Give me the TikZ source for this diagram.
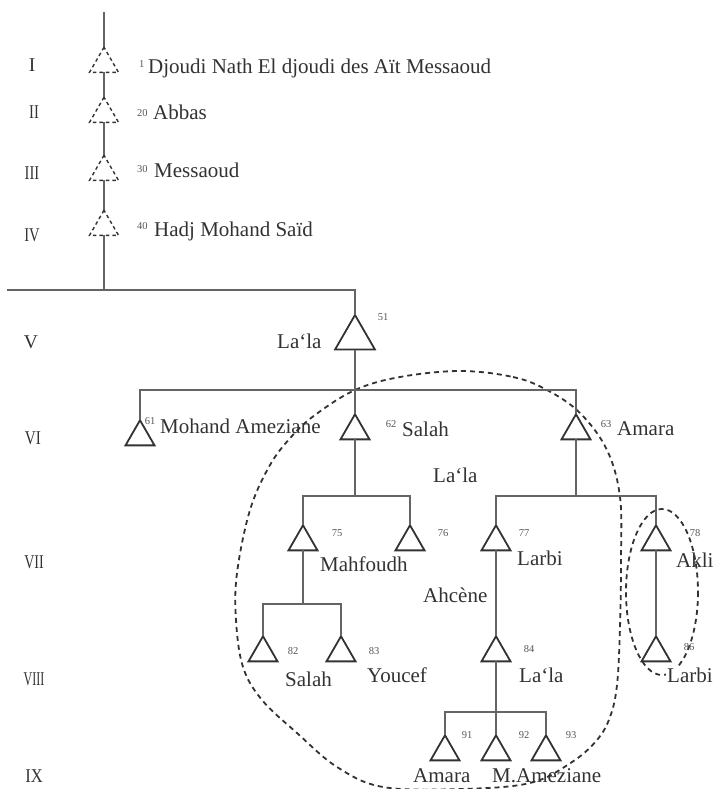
\documentclass[tikz,border=0pt]{standalone}
\usepackage{fontspec}
\setmainfont{Liberation Serif}
\usetikzlibrary{shapes.geometric}
\definecolor{ink}{RGB}{50,50,50}
\definecolor{soft}{RGB}{85,85,85}
\definecolor{wirec}{RGB}{100,100,100}
\begin{document}
\begin{tikzpicture}[x=1pt,y=-1pt,
  kin/.style={regular polygon, regular polygon sides=3, minimum size=33.5pt,
    inner sep=0pt, outer sep=0pt, draw=ink, line width=1.8pt},
  bigkin/.style={kin, minimum size=46pt},
  ancestor/.style={kin, line width=1.4pt, dash pattern=on 3.5pt off 3pt},
  person/.style={font=\fontsize{21}{23}\selectfont, text=ink, inner sep=0pt, anchor=base west},
  idx/.style={font=\fontsize{10.5}{12}\selectfont, text=soft, inner sep=0pt},
  genlbl/.style={font=\fontsize{19.5}{21}\selectfont, text=ink, inner sep=0pt, anchor=base},
  wire/.style={draw=wirec, line width=1.3pt},
  grp/.style={draw=ink, line width=1.8pt, dash pattern=on 5pt off 4pt},
]
\useasboundingbox (0,0) rectangle (714,789);

% generation numerals
\node[genlbl] (gI)    at (32,72)  {I};
\node[genlbl] (gII)   at (34,118) {\scalebox{0.75}[1]{II}};
\node[genlbl] (gIII)  at (32,179) {\scalebox{0.75}[1]{III}};
\node[genlbl] (gIV)   at (32,241) {\scalebox{0.75}[1]{IV}};
\node[genlbl] (gV)    at (31,348) {V};
\node[genlbl] (gVI)   at (33,444) {\scalebox{0.78}[1]{VI}};
\node[genlbl] (gVII)  at (34,568) {\scalebox{0.72}[1]{VII}};
\node[genlbl] (gVIII) at (34,685) {\scalebox{0.62}[1]{VIII}};
\node[genlbl] (gIX)   at (34,782) {\scalebox{0.85}[1]{IX}};

% group outlines
\draw[grp] plot[smooth cycle, tension=0.6] coordinates {
  (460,371) (513,377) (547,390) (580,413) (607,450) (620,497) (621,560)
  (620,627) (617,685) (610,717) (597,740) (572,762) (530,783) (460,789)
  (383,787) (337,767) (297,733) (262,700) (243,667) (236,620) (237,573)
  (250,510) (270,465) (292,436) (315,415) (355,390) (400,377)};
\draw[grp] (662,592) ellipse [x radius=36, y radius=83];

% ancestors
\coordinate (root) at (104,12);
\node[ancestor] (g1) at (104,64)  {};
\node[ancestor] (g2) at (104,114) {};
\node[ancestor] (g3) at (104,172) {};
\node[ancestor] (g4) at (104,227) {};
\node[idx, anchor=base west] (n1)  at (139,68)  {1};
\node[idx, anchor=base west] (n20) at (137,117) {20};
\node[idx, anchor=base west] (n30) at (137,172) {30};
\node[idx, anchor=base west] (n40) at (137,229) {40};
\node[person] (t1)  at (148,74)  {Djoudi Nath El djoudi des Aït Messaoud};
\node[person] (t20) at (153,120) {Abbas};
\node[person] (t30) at (154,177) {Messaoud};
\node[person] (t40) at (154,236) {Hadj Mohand Saïd};

% generation V to IX
\node[bigkin] (p51) at (355,338) {};
\node[kin] (p61) at (140,437) {};
\node[kin] (p62) at (355,431) {};
\node[kin] (p63) at (576,431) {};
\node[kin] (p75) at (303,542) {};
\node[kin] (p76) at (410,542) {};
\node[kin] (p77) at (496,542) {};
\node[kin] (p78) at (656,542) {};
\node[kin] (p82) at (263,653) {};
\node[kin] (p83) at (341,653) {};
\node[kin] (p84) at (496,653) {};
\node[kin] (p86) at (656,653) {};
\node[kin] (p91) at (445,752) {};
\node[kin] (p92) at (496,752) {};
\node[kin] (p93) at (546,752) {};

% connectors
\draw[wire] (root) -- (g1.north);
\draw[wire] (g1.south) -- (g2.north);
\draw[wire] (g2.south) -- (g3.north);
\draw[wire] (g3.south) -- (g4.north);
\coordinate (b5L) at (7,290);
\coordinate (b5R) at (355,290);
\draw[wire] (g4.south) -- (g4.south |- b5L);
\draw[wire] (b5L) -- (b5R) -- (p51.north);
\coordinate (b6) at (355,390);
\draw[wire] (p51.south) -- (p62.north);
\draw[wire] (p61.north) |- (b6) -| (p63.north);
\coordinate (b7a) at (355,496);
\draw[wire] (p62.south) -- (b7a);
\draw[wire] (p75.north) |- (b7a) -| (p76.north);
\coordinate (b7b) at (576,496);
\draw[wire] (p63.south) -- (b7b);
\draw[wire] (p77.north) |- (b7b) -| (p78.north);
\coordinate (b8) at (303,604);
\draw[wire] (p75.south) -- (b8);
\draw[wire] (p82.north) |- (b8) -| (p83.north);
\draw[wire] (p77.south) -- (p84.north);
\draw[wire] (p78.south) -- (p86.north);
\draw[wire] (p84.south) -- (p92.north);
\coordinate (b9) at (496,712);
\draw[wire] (p91.north) |- (b9) -| (p93.north);

% indices
\node[idx] (i51) at (383,317) {51};
\node[idx] (i61) at (150,421) {61};
\node[idx] (i62) at (391,424) {62};
\node[idx] (i63) at (606,424) {63};
\node[idx] (i75) at (337,533) {75};
\node[idx] (i76) at (443,533) {76};
\node[idx] (i77) at (524,533) {77};
\node[idx] (i78) at (695,533) {78};
\node[idx] (i82) at (293,651) {82};
\node[idx] (i83) at (374,651) {83};
\node[idx] (i84) at (529,649) {84};
\node[idx] (i86) at (689,647) {86};
\node[idx] (i91) at (467,735) {91};
\node[idx] (i92) at (524,735) {92};
\node[idx] (i93) at (571,735) {93};

% names
\node[person] (m51)  at (277,348) {La‘la};
\node[person] (m61)  at (160,433) {Mohand Ameziane};
\node[person] (m62)  at (402,436) {Salah};
\node[person] (m63)  at (617,435) {Amara};
\node[person] (w62)  at (433,482) {La‘la};
\node[person] (m75)  at (320,571) {Mahfoudh};
\node[person] (m77)  at (517,565) {Larbi};
\node[person] (m78)  at (676,567) {Akli};
\node[person] (w77)  at (423,602) {Ahcène};
\node[person] (m82)  at (285,686) {Salah};
\node[person] (m83)  at (367,682) {Youcef};
\node[person] (m84)  at (519,682) {La‘la};
\node[person, fill=white, inner sep=1pt] (m86) at (666,682) {Larbi};
\node[person] (m91)  at (413,782) {Amara};
\node[person] (m92)  at (492,782) {M.Ameziane};
\end{tikzpicture}
\end{document}
